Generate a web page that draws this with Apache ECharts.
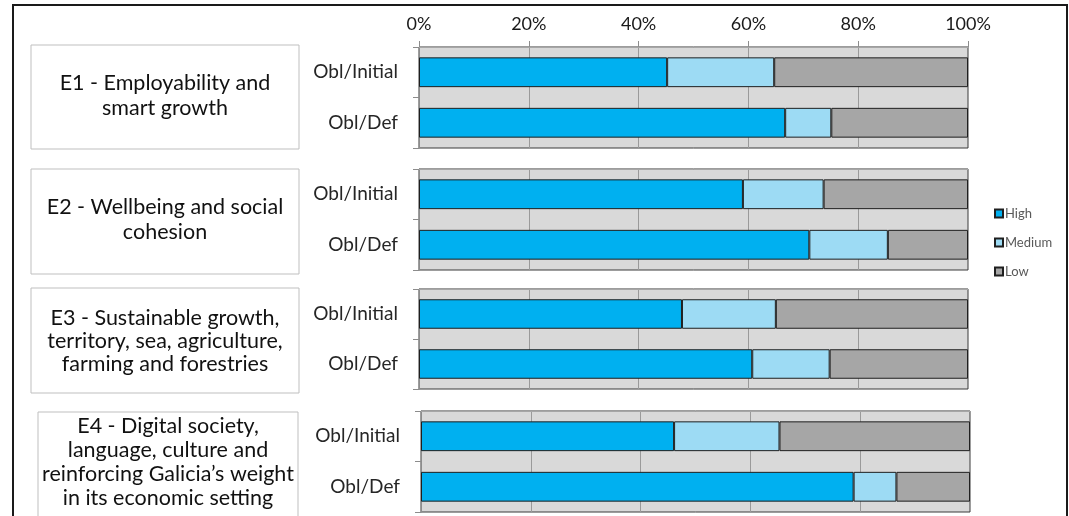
<!DOCTYPE html>
<html>
<head>
<meta charset="utf-8">
<script src="https://cdn.jsdelivr.net/npm/echarts@6/dist/echarts.min.js"></script>
<style>
html,body{margin:0;padding:0;background:#fff;}
#chart{width:1069px;height:516px;}
</style>
</head>
<body>
<div id="chart"></div>
<script>
// ---- data ----
const seriesNames = ['High', 'Medium', 'Low'];
const categories = ['Obl/Initial', 'Obl/Def'];
const themeLabels = [
  'E1 - Employability and\nsmart growth',
  'E2 - Wellbeing and social\ncohesion',
  'E3 - Sustainable growth,\nterritory, sea, agriculture,\nfarming and forestries',
  'E4 - Digital society,\nlanguage, culture and\nreinforcing Galicia\u2019s weight\nin its economic setting'
];
const highValues   = [[45.2, 66.7], [59.0, 71.1], [47.9, 60.7], [46.1, 78.8]];
const mediumValues = [[19.5, 8.4],  [14.7, 14.3], [17.1, 14.1], [19.2, 7.8]];
const lowValues    = [[35.3, 24.9], [26.3, 14.6], [35.0, 25.2], [34.7, 13.4]];
const tickValues = [0, 20, 40, 60, 80, 100];

// ---- layout ----
const FONT = 'Lato, "Noto Sans", sans-serif';
const grids = [
  { left: 419, width: 549, top: 47, height: 101 },
  { left: 419, width: 549, top: 169, height: 101 },
  { left: 419, width: 549, top: 289, height: 100 },
  { left: 421, width: 549, top: 411, height: 101 }
];
const boxes = [
  { x: 31, y: 45, w: 268, h: 104, cx: 165, cy: 96, lh: 25 },
  { x: 31, y: 169, w: 268, h: 105, cx: 165, cy: 220, lh: 25 },
  { x: 31, y: 288, w: 268, h: 105, cx: 165, cy: 341, lh: 23 },
  { x: 38, y: 412, w: 260, h: 130, cx: 168, cy: 462, lh: 24 }
];
const colors = { High: '#00b0f0', Medium: '#9ddbf4', Low: '#a6a6a6' };
const valueSets = { High: highValues, Medium: mediumValues, Low: lowValues };

const chart = echarts.init(document.getElementById('chart'), null, { renderer: 'canvas' });

const gridOpts = grids.map(g => ({
  left: g.left, width: g.width, top: g.top, height: g.height,
  show: true, backgroundColor: '#d9d9d9', borderColor: '#3a3a3a', borderWidth: 1,
  containLabel: false
}));

const xAxes = grids.map((g, i) => ({
  type: 'value', gridIndex: i, min: 0, max: 100, interval: 20, position: 'top',
  axisLine: { show: true, lineStyle: { color: '#a6a6a6', width: 1 } },
  axisTick: { show: i === 0, length: 6, lineStyle: { color: '#8c8c8c' } },
  axisLabel: {
    show: i === 0, formatter: v => tickValues.includes(v) ? v + '%' : '',
    color: '#1a1a1a', fontFamily: FONT, fontSize: 18, margin: 14
  },
  splitLine: { show: true, showMinLine: false, showMaxLine: false, lineStyle: { color: '#9a9a9a', width: 1 } }
}));

const yAxes = grids.map((g, i) => ({
  type: 'category', gridIndex: i, data: categories, inverse: true,
  axisLine: { show: true, lineStyle: { color: '#8c8c8c', width: 1 } },
  axisTick: { show: true, length: 6, lineStyle: { color: '#8c8c8c' } },
  axisLabel: { color: '#262626', fontFamily: FONT, fontSize: 19, margin: 21 },
  splitLine: { show: false }
}));

const series = [];
grids.forEach((g, i) => {
  seriesNames.forEach(name => {
    series.push({
      name: name, type: 'bar', stack: 'panel' + i,
      xAxisIndex: i, yAxisIndex: i,
      barWidth: '59%',
      itemStyle: { color: colors[name], borderColor: '#1f1f1f', borderWidth: 1 },
      emphasis: { disabled: true },
      data: valueSets[name][i]
    });
  });
});

const graphics = [
  { type: 'rect', shape: { x: 13, y: 5, width: 1054, height: 530 },
    style: { fill: 'none', stroke: '#1a1a1a', lineWidth: 2 }, z: 100 }
];
boxes.forEach((b, i) => {
  graphics.push({ type: 'rect', shape: { x: b.x, y: b.y, width: b.w, height: b.h },
    style: { fill: '#ffffff', stroke: '#bfbfbf', lineWidth: 1 } });
  graphics.push({ type: 'text', x: b.cx, y: b.cy,
    style: { text: themeLabels[i], fill: '#111111', font: '21.5px ' + FONT,
      textAlign: 'center', textVerticalAlign: 'middle', lineHeight: b.lh } });
});

chart.setOption({
  animation: false,
  backgroundColor: '#ffffff',
  grid: gridOpts,
  xAxis: xAxes,
  yAxis: yAxes,
  legend: {
    data: seriesNames, orient: 'vertical', left: 989, top: 202,
    itemWidth: 8, itemHeight: 8, itemGap: 16, icon: 'rect',
    textStyle: { color: '#595959', fontFamily: FONT, fontSize: 13, padding: [0, 0, 0, -3] },
    selectedMode: false
  },
  graphic: graphics,
  series: series
});
</script>
</body>
</html>
